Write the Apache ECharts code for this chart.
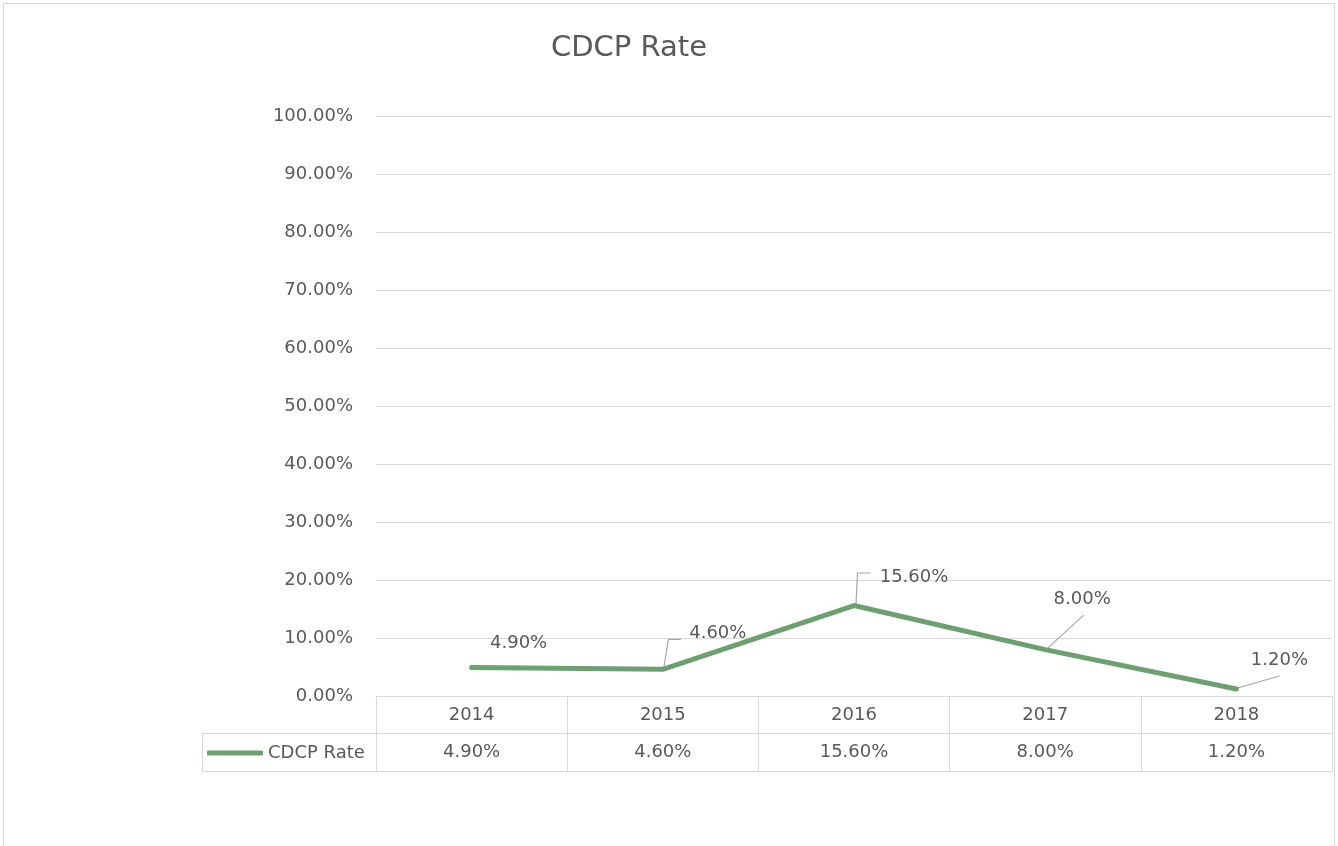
<!DOCTYPE html>
<html>
<head>
<meta charset="utf-8">
<script src="https://cdn.jsdelivr.net/npm/echarts@6/dist/echarts.min.js"></script>
<style>
html,body{margin:0;padding:0;background:#fff;}
#chart{width:1338px;height:846px;}
</style>
</head>
<body>
<div id="chart"></div>
<script>
const chartTitle = 'CDCP Rate';
const seriesName = 'CDCP Rate';
const categories = ['2014', '2015', '2016', '2017', '2018'];
const cdcpRate = [4.9, 4.6, 15.6, 8.0, 1.2];
const yMin = 0, yMax = 100, yStep = 10;

const fmt = v => Number(v).toFixed(2) + '%';
const FONT = 'DejaVu Sans';
const TXT = '#595959';
const LINE = '#d9d9d9';
const GREEN = '#6e9f71';

// label offsets (dx, dy) relative to default 'top' label position
const labelShift = [[47, -9], [55, -21], [60, -13], [37, -35], [43, -14]];
// leader-line shapes, as pixel offsets from each data point (null = no leader)
const leaderShape = [
  null,
  [[1, -1], [5.5, -30], [18, -30]],
  [[2, -1], [3.5, -32.5], [16.5, -32.5]],
  [[2, -1], [38.5, -34.5]],
  [[1, -1], [43, -13]]
];

const chart = echarts.init(document.getElementById('chart'), null, {renderer: 'canvas'});
chart.setOption({
  animation: false,
  backgroundColor: '#fff',
  title: {
    text: chartTitle,
    left: 629, top: 34, padding: 0,
    textAlign: 'center',
    textStyle: {fontFamily: FONT, fontSize: 29, fontWeight: 'normal', color: TXT}
  },
  legend: {
    data: [seriesName],
    left: 207, top: 744, padding: 0,
    icon: 'roundRect', itemWidth: 56, itemHeight: 5,
    textStyle: {fontFamily: FONT, fontSize: 18, color: TXT},
    selectedMode: false
  },
  grid: {left: 376, right: 6, top: 116, bottom: 150, containLabel: false},
  xAxis: [
    {
      type: 'category', data: categories, boundaryGap: true,
      axisLine: {show: true, lineStyle: {color: LINE, width: 1}},
      axisTick: {show: true, interval: 0, length: 75, lineStyle: {color: LINE, width: 1}},
      axisLabel: {fontFamily: FONT, fontSize: 18, color: TXT, margin: 10, interval: 0},
      splitLine: {show: false}
    },
    {
      type: 'category', data: cdcpRate.map(fmt), position: 'bottom', offset: 37,
      axisLine: {show: true, lineStyle: {color: LINE, width: 1}},
      axisTick: {show: false},
      axisLabel: {fontFamily: FONT, fontSize: 18, color: TXT, margin: 10, interval: 0},
      splitLine: {show: false}
    },
    {
      type: 'category', data: categories, position: 'bottom', offset: 75,
      axisLine: {show: true, lineStyle: {color: LINE, width: 1}},
      axisTick: {show: false},
      axisLabel: {show: false},
      splitLine: {show: false}
    }
  ],
  yAxis: {
    type: 'value', min: yMin, max: yMax, interval: yStep,
    axisLine: {show: false}, axisTick: {show: false},
    axisLabel: {fontFamily: FONT, fontSize: 18, color: TXT, margin: 23, formatter: fmt},
    splitLine: {show: true, lineStyle: {color: LINE, width: 1}}
  },
  graphic: [
    {type: 'rect', silent: true, shape: {x: 3.5, y: 3.5, width: 1331, height: 900},
     style: {fill: 'none', stroke: LINE, lineWidth: 1}},
    {type: 'line', silent: true, shape: {x1: 202, y1: 733.5, x2: 376, y2: 733.5}, style: {stroke: LINE, lineWidth: 1}},
    {type: 'line', silent: true, shape: {x1: 202, y1: 771.5, x2: 376, y2: 771.5}, style: {stroke: LINE, lineWidth: 1}},
    {type: 'line', silent: true, shape: {x1: 202.5, y1: 733, x2: 202.5, y2: 772}, style: {stroke: LINE, lineWidth: 1}}
  ],
  series: [
    {
      name: 'leaders',
      type: 'custom',
      xAxisIndex: 0, yAxisIndex: 0,
      silent: true, z: 1,
      data: cdcpRate.map((v, i) => [i, v]),
      renderItem: (params, api) => {
        const shape = leaderShape[params.dataIndex];
        if (!shape) return null;
        const p = api.coord([api.value(0), api.value(1)]);
        return {
          type: 'polyline',
          shape: {points: shape.map(o => [p[0] + o[0], p[1] + o[1]])},
          style: {stroke: '#a6a6a6', lineWidth: 1.2, fill: null}
        };
      }
    },
    {
      name: seriesName,
      type: 'line',
      xAxisIndex: 0, z: 2,
      data: cdcpRate,
      symbol: 'circle', symbolSize: 2,
      itemStyle: {color: GREEN},
      lineStyle: {color: GREEN, width: 5, cap: 'round', join: 'round'},
      label: {
        show: true, position: 'top', distance: 5,
        fontFamily: FONT, fontSize: 18, color: TXT,
        formatter: p => fmt(p.value)
      },
      labelLayout: p => ({dx: labelShift[p.dataIndex][0], dy: labelShift[p.dataIndex][1]}),
      emphasis: {disabled: true}
    }
  ]
});
</script>
</body>
</html>
